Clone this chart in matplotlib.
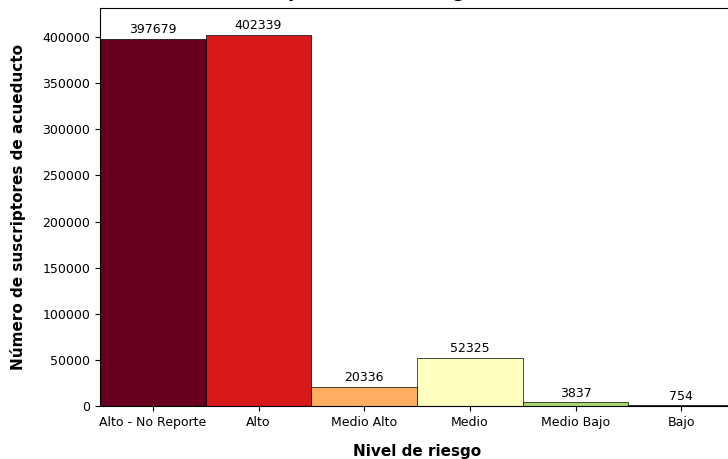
import matplotlib
matplotlib.use("Agg")
import matplotlib.pyplot as plt

# Suscriptores por nivel de riesgo
niveles = ['Alto - No Reporte', 'Alto', 'Medio Alto', 'Medio', 'Medio Bajo', 'Bajo']
suscriptores = [397679, 402339, 20336, 52325, 3837, 754]
colores = ['#67001f', '#d7191c', '#fdae61', '#ffffbf', '#a6d96a', '#1a9641']

fig = plt.figure(figsize=(7.28, 4.59), dpi=100)
ax = fig.add_axes([100 / 728, 53 / 459, 634 / 728, 398 / 459])

bars = ax.bar(niveles, suscriptores, width=1.0, color=colores,
              edgecolor='black', linewidth=0.5)
ax.bar_label(bars, padding=2, fontsize=9)

ax.set_xlim(-0.5, len(niveles) - 0.5)
ax.set_ylim(0, 431500)
ax.tick_params(labelsize=9)

ax.set_xlabel('Nivel de riesgo', fontsize=11, fontweight='bold', labelpad=11)
ax.set_ylabel('Número de suscriptores de acueducto', fontsize=11,
              fontweight='bold', labelpad=12)
ax.set_title('Usuarios por nivel de riesgo en zona urbana', fontsize=13,
             fontweight='bold', pad=8)

fig.savefig('out.png', dpi=100)
